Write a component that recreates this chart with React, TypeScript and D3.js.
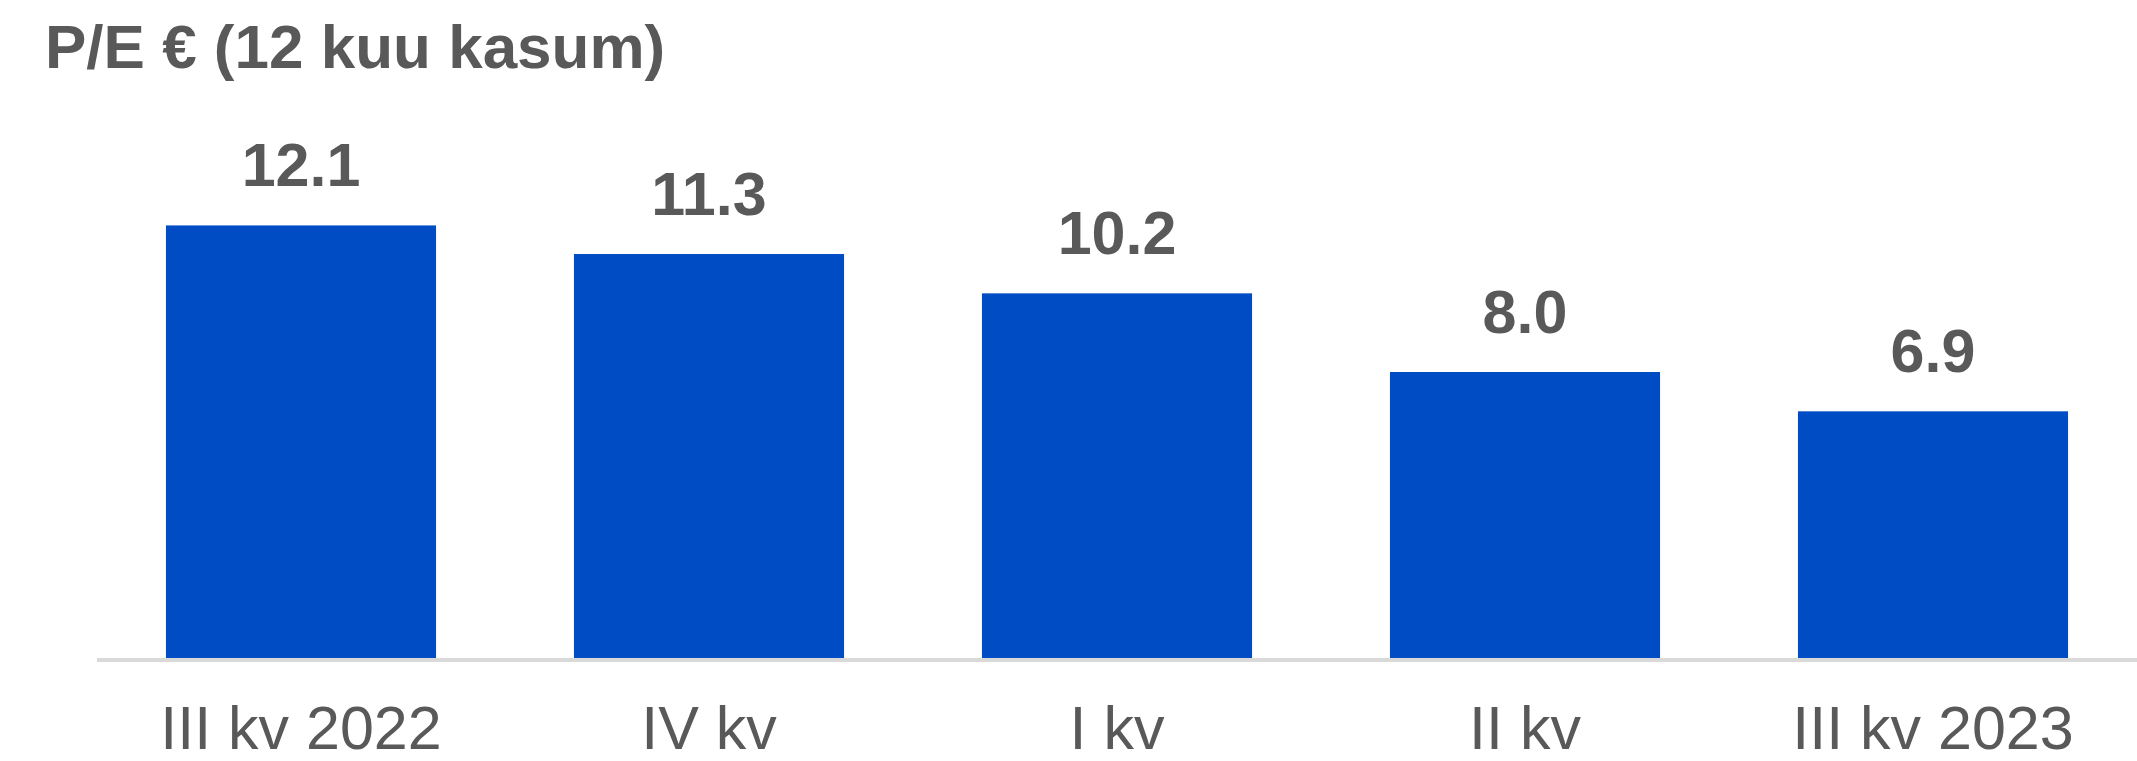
import React from "react";
import * as d3 from "d3";

const categories = ["III kv 2022", "IV kv", "I kv", "II kv", "III kv 2023"];
const values = [12.1, 11.3, 10.2, 8.0, 6.9];
const title = "P/E € (12 kuu kasum)";

const W = 2137;
const H = 761;
const FONT = "'Liberation Sans', Arial, sans-serif";
const GREY = "#595959";

export default function App() {
  const x = d3.scaleBand<string>().domain(categories).range([97, W]).paddingInner(0.338).paddingOuter(0.169);
  const y = d3.scaleLinear().domain([0, 14]).range([658, 157.5]);
  return (
    <svg width={W} height={H} style={{ position: "absolute", left: 0, top: 0, background: "#fff" }}>
      <text x={45} y={68} fontFamily={FONT} fontWeight="bold" fontSize={62} fill={GREY}>{title}</text>
      {categories.map((c, i) => (
        <g key={c}>
          <rect x={x(c)} y={y(values[i])} width={x.bandwidth()} height={y(0) - y(values[i])} fill="#004cc5" />
          <text x={(x(c) as number) + x.bandwidth() / 2} y={y(values[i]) - 39} textAnchor="middle" fontFamily={FONT} fontWeight="bold" fontSize={61} fill={GREY}>{d3.format(".1f")(values[i])}</text>
          <text x={(x(c) as number) + x.bandwidth() / 2} y={749} textAnchor="middle" fontFamily={FONT} fontSize={61} fill={GREY}>{c}</text>
        </g>
      ))}
      <line x1={97} x2={W} y1={660} y2={660} stroke="#d9d9d9" strokeWidth={4} />
    </svg>
  );
}
